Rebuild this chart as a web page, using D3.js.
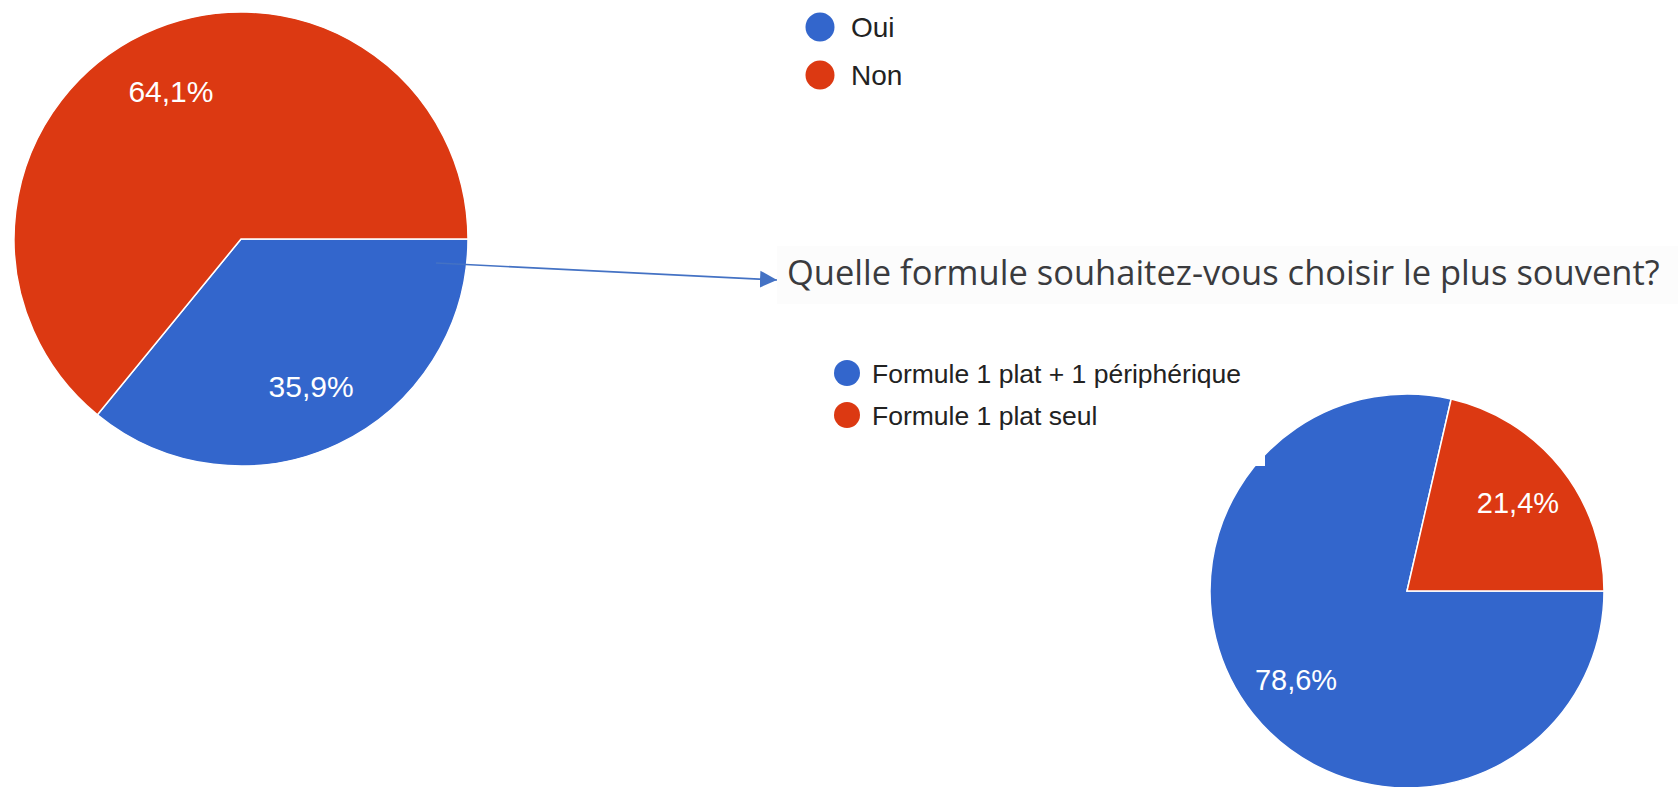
<!DOCTYPE html>
<html>
<head>
<meta charset="utf-8">
<script src="https://cdn.jsdelivr.net/npm/d3@7"></script>
<style>
  html, body { margin: 0; padding: 0; background: #fff; }
  svg { display: block; }
</style>
</head>
<body>
<svg id="chart" width="1678" height="787"></svg>
<script>
// ---- data ----
const pie1Categories = ["Oui", "Non"];
const pie1Values = [35.9, 64.1];
const pie1Labels = ["35,9%", "64,1%"];

const pie2Categories = ["Formule 1 plat + 1 périphérique", "Formule 1 plat seul"];
const pie2Values = [78.6, 21.4];
const pie2Labels = ["78,6%", "21,4%"];

const seriesColors = ["#3366CC", "#DC3912"];
const questionTitle = "Quelle formule souhaitez-vous choisir le plus souvent?";

// ---- drawing ----
const svg = d3.select("#chart");
const color = d3.scaleOrdinal().domain([0, 1]).range(seriesColors);

function drawPie(cx, cy, r, values, labels, fontSize) {
  const g = svg.append("g").attr("transform", `translate(${cx},${cy})`);
  const pie = d3.pie().sort(null).value(d => d)
    .startAngle(Math.PI / 2).endAngle(Math.PI / 2 + 2 * Math.PI);
  const arcs = pie(values);
  const arc = d3.arc().innerRadius(0).outerRadius(r);
  const labelArc = d3.arc().innerRadius(r * 0.72).outerRadius(r * 0.72);
  g.selectAll("path").data(arcs).join("path")
    .attr("d", arc)
    .attr("fill", (d, i) => color(i))
    .attr("stroke", "#fff")
    .attr("stroke-width", 1.5);
  g.selectAll("text").data(arcs).join("text")
    .attr("transform", d => `translate(${labelArc.centroid(d)})`)
    .attr("text-anchor", "middle")
    .attr("dy", "0.36em")
    .attr("fill", "#fff")
    .style("font-family", "'Liberation Sans', Arial, sans-serif")
    .style("font-size", fontSize + "px")
    .text((d, i) => labels[i]);
  return g;
}

function drawLegend(x, y0, step, r, textX, cats, fontSize) {
  const g = svg.append("g");
  const rows = g.selectAll("g").data(cats).join("g")
    .attr("transform", (d, i) => `translate(0,${y0 + i * step})`);
  rows.append("circle").attr("cx", x).attr("cy", 0).attr("r", r)
    .attr("fill", (d, i) => color(i));
  rows.append("text").attr("x", textX).attr("y", 0).attr("dy", "0.36em")
    .attr("fill", "#222")
    .style("font-family", "'Liberation Sans', Arial, sans-serif")
    .style("font-size", fontSize + "px")
    .text(d => d);
}

// faint screenshot background behind the question title
svg.append("rect").attr("x", 777).attr("y", 246).attr("width", 901).attr("height", 58)
  .attr("fill", "#fcfcfc");

// pie 1
drawPie(241, 239, 227, pie1Values, pie1Labels, 30);
drawLegend(820, 27, 48, 14.5, 851, pie1Categories, 28);

// pie 2
drawPie(1407, 591, 197, pie2Values, pie2Labels, 29);
drawLegend(847, 373, 42, 13, 872, pie2Categories, 26.5);

// small white notch (screenshot artifact)
svg.append("rect").attr("x", 1238).attr("y", 440).attr("width", 27).attr("height", 26)
  .attr("fill", "#fff");

// title
const title = svg.append("text")
  .attr("x", 787).attr("y", 285)
  .attr("fill", "#3a3b3e")
  .style("font-family", "'Open Sans', sans-serif")
  .style("font-size", "30px")
  .text(questionTitle);
const tw = title.node().getComputedTextLength();
title.style("font-size", (30 * 873 / tw) + "px");

// arrow
const defs = svg.append("defs");
defs.append("marker").attr("id", "arrowhead")
  .attr("viewBox", "0 0 10 10").attr("refX", 10).attr("refY", 5)
  .attr("markerWidth", 17).attr("markerHeight", 18)
  .attr("markerUnits", "userSpaceOnUse")
  .attr("orient", "auto")
  .append("path").attr("d", "M0,0 L10,5 L0,10 Z").attr("fill", "#4472C4");
svg.append("line")
  .attr("x1", 436).attr("y1", 263).attr("x2", 777).attr("y2", 280)
  .attr("stroke", "#4472C4").attr("stroke-width", 1.6)
  .attr("marker-end", "url(#arrowhead)");
</script>
</body>
</html>
